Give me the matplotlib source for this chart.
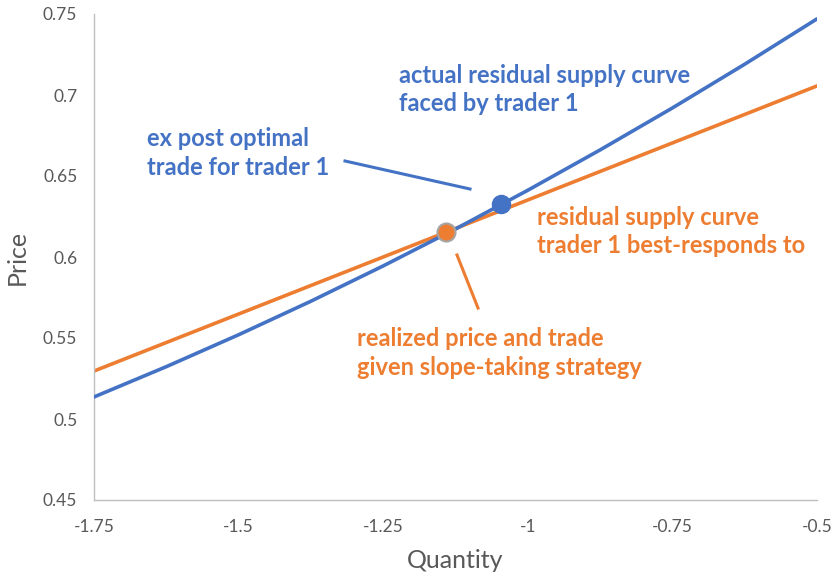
import matplotlib
matplotlib.use("Agg")
import matplotlib.pyplot as plt
from matplotlib.lines import Line2D

plt.rcParams['font.family'] = ['Lato', 'DejaVu Sans']

# Data
blue_x = [-1.75, -1.625, -1.5, -1.375, -1.25, -1.125, -1.0, -0.875, -0.75, -0.625, -0.5]
blue_y = [0.5136, 0.5323, 0.5520, 0.5727, 0.5945, 0.6173, 0.6412, 0.6661, 0.6920, 0.7190, 0.7470]
orange_x = [-1.75, -0.5]
orange_y = [0.5296, 0.7056]
opt_point = (-1.046, 0.6325)
real_point = (-1.141, 0.6156)
xticks = [-1.75, -1.5, -1.25, -1.0, -0.75, -0.5]
xtick_labels = ['-1.75', '-1.5', '-1.25', '-1', '-0.75', '-0.5']
yticks = [0.45, 0.5, 0.55, 0.6, 0.65, 0.7, 0.75]
ytick_labels = ['0.45', '0.5', '0.55', '0.6', '0.65', '0.7', '0.75']

BLUE = '#4472C4'
ORANGE = '#ED7D31'
GREY = '#595959'

W, H = 833, 574
fig = plt.figure(figsize=(W / 100, H / 100), dpi=100)
ax = fig.add_axes([94 / W, 1 - 500 / H, (817 - 94) / W, (500 - 14) / H])

ax.plot(blue_x, blue_y, color=BLUE, lw=2.6, solid_capstyle='round', zorder=3)
ax.plot(orange_x, orange_y, color=ORANGE, lw=2.6, solid_capstyle='round', zorder=2)
ax.plot([opt_point[0]], [opt_point[1]], 'o', color=BLUE, ms=13, mec=BLUE, zorder=5)
ax.plot([real_point[0]], [real_point[1]], 'o', color=ORANGE, ms=13, mec='#A5A5A5', mew=1.5, zorder=5)

ax.set_xlim(-1.75, -0.5)
ax.set_ylim(0.45, 0.75)
ax.set_xticks(xticks)
ax.set_xticklabels(xtick_labels)
ax.set_yticks(yticks)
ax.set_yticklabels(ytick_labels)
ax.tick_params(length=0, colors=GREY, labelsize=12.5, pad=14)
ax.tick_params(axis='y', pad=12)
for s in ['top', 'right']:
    ax.spines[s].set_visible(False)
for s in ['left', 'bottom']:
    ax.spines[s].set_color('#BFBFBF')
    ax.spines[s].set_linewidth(1)

ax.set_xlabel('Quantity', fontsize=18, color=GREY, labelpad=10)
ax.set_ylabel('Price', fontsize=18, color=GREY, labelpad=10)

def fx(px):
    return px / W

def fy(py):
    return 1 - py / H

tk = dict(fontsize=17, fontweight='bold', ha='left', va='center', linespacing=1.3)
fig.text(fx(399), fy(89.5), 'actual residual supply curve\nfaced by trader 1', color=BLUE, **tk)
fig.text(fx(147), fy(153), 'ex post optimal\ntrade for trader 1', color=BLUE, **tk)
fig.text(fx(537), fy(231.5), 'residual supply curve\ntrader 1 best-responds to', color=ORANGE, **tk)
fig.text(fx(357), fy(353), 'realized price and trade\ngiven slope-taking strategy', color=ORANGE, **tk)

fig.add_artist(Line2D([fx(345), fx(470)], [fy(161), fy(189)], transform=fig.transFigure, color=BLUE, lw=2.2))
fig.add_artist(Line2D([fx(457), fx(478)], [fy(255), fy(308)], transform=fig.transFigure, color=ORANGE, lw=2.2))

fig.savefig('out.png', dpi=100)
